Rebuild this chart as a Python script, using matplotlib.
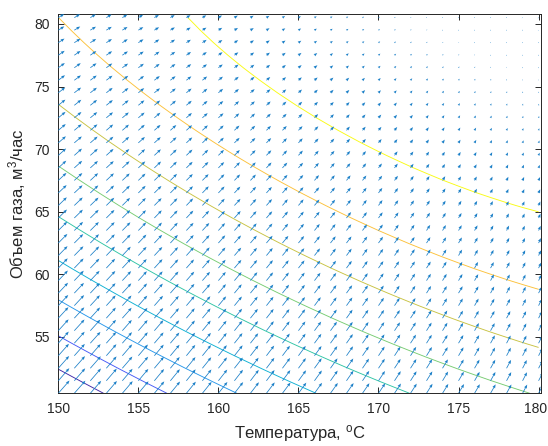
import numpy as np
import matplotlib
matplotlib.use("Agg")
import matplotlib.pyplot as plt
import matplotlib.transforms as mtransforms
from matplotlib.colors import LinearSegmentedColormap

plt.rcParams['font.family'] = ['Liberation Sans', 'DejaVu Sans']
plt.rcParams['mathtext.fontset'] = 'custom'
plt.rcParams['mathtext.rm'] = 'Liberation Sans'
plt.rcParams['mathtext.it'] = 'Liberation Sans:italic'

# grid: temperature (C) and gas volume (m3/h)
temp = np.arange(150, 181, 1.0)
volume = np.arange(50.5, 81, 1.0)

# response surface (centered at T=165, V=65)
# Z = b0 + bT*t + bV*v + bTT*t^2 + bVV*v^2 + bTV*t*v
b0, bT, bV = 7.69521, 0.129992, 0.197284
bTT, bVV, bTV = -0.00285664, -0.0049689, -0.00443303
levels = [1, 2, 3, 4, 5, 6, 7, 8, 9]

# old matlab parula
parula = [(0.2422, 0.1504, 0.6603), (0.2700, 0.3500, 0.9700), (0.1540, 0.5902, 0.9218),
          (0.0500, 0.6900, 0.8300), (0.1800, 0.7700, 0.6500), (0.4600, 0.8000, 0.4500),
          (0.7800, 0.7600, 0.2600), (0.9900, 0.7500, 0.2300), (0.9769, 0.9839, 0.0805)]

TT, VV = np.meshgrid(temp, volume)
tt, vv = TT - 165, VV - 65
Z = b0 + bT*tt + bV*vv + bTT*tt**2 + bVV*vv**2 + bTV*tt*vv
gV, gT = np.gradient(Z, volume, temp)

fig = plt.figure(figsize=(5.48, 4.46), dpi=100)
ax = fig.add_axes([0.1064, 0.1182, 0.8808, 0.8498])

cmap = LinearSegmentedColormap.from_list("parula", parula)
ax.contour(TT, VV, Z, levels=levels, cmap=cmap, vmin=1, vmax=9, linewidths=0.65)

# matlab-like auto scaling of quiver arrows
d = np.sqrt(2 * (30 / 31) ** 2)
k = 0.9 * d / np.sqrt(gT**2 + gV**2).max()
ax.quiver(TT, VV, gT, gV, color="#1a7fc7", angles="xy", scale_units="xy", scale=1/k,
          width=0.0016, headwidth=4, headlength=5, headaxislength=4.5, zorder=3)

ax.set_xlim(150, 180.15)
ax.set_ylim(50.5, 80.77)
ax.set_xticks([150, 155, 160, 165, 170, 175, 180])
ax.set_yticks([55, 60, 65, 70, 75, 80])
ax.tick_params(direction='in', top=True, right=True, length=4, width=0.7,
               labelsize=10, colors='#262626', pad=6)
for s in ax.spines.values():
    s.set_color('#262626')
    s.set_linewidth(0.7)

# nudge the last x label so it stays in the figure
lab = ax.get_xticklabels()[-1]
lab.set_transform(lab.get_transform() + mtransforms.ScaledTranslation(-3/100, 0, fig.dpi_scale_trans))

ax.set_xlabel('Температура, $^{\\mathrm{o}}$C', fontsize=12, color='#262626', labelpad=5)
ax.set_ylabel('Объем газа, м$^{\\mathrm{3}}$/час', fontsize=12, color='#262626', labelpad=5)

fig.savefig("out.png")
